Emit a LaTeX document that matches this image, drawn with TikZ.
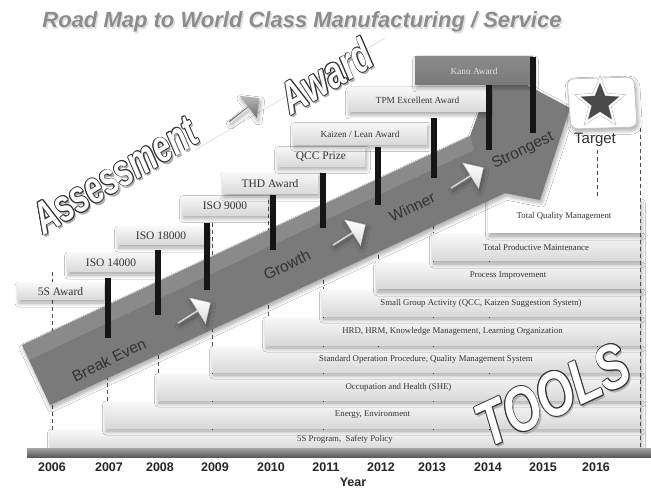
\documentclass[tikz,border=0pt]{standalone}
\usepackage{fontspec}
\setmainfont{Liberation Serif}
\newfontfamily\arialfont{Liberation Sans}
\usetikzlibrary{shapes.geometric,shapes.arrows,shadows.blur}

\definecolor{ink}{HTML}{333333}
\definecolor{bandgray}{HTML}{7A7A7A}
\definecolor{titlegray}{HTML}{8C8C8C}
\definecolor{kanogray}{HTML}{8A8A8A}
\definecolor{barblack}{HTML}{151515}
\definecolor{axisgray}{HTML}{5A5A5A}

\tikzset{
  softshadow/.style={blur shadow={shadow xshift=1.5pt, shadow yshift=-3pt,
      shadow blur steps=8, shadow blur radius=4pt, shadow opacity=35}},
  awardbox/.style={rectangle, inner sep=0pt, top color=gray!6, bottom color=gray!30,
      text=ink, font=\fontsize{11.5}{12}\selectfont, softshadow},
  smallaward/.style={awardbox, font=\fontsize{9.3}{10}\selectfont},
  toolbar/.style={rectangle, inner sep=0pt, top color=gray!6, bottom color=gray!30,
      text=ink, font=\fontsize{8.8}{9}\selectfont, softshadow},
  yeargrid/.style={draw=gray!60!black, line width=1pt, dash pattern=on 4pt off 3pt},
  milestone/.style={draw=barblack, line width=6pt},
  phase/.style={font=\arialfont\fontsize{15.5}{16}\selectfont, text=ink, rotate=26},
  whitearrow/.style={single arrow, inner sep=0pt, minimum height=38pt, minimum width=30pt,
      single arrow head extend=5pt, single arrow head indent=0pt, top color=white,
      bottom color=gray!28, draw=gray!40, softshadow},
  yearlabel/.style={font=\arialfont\bfseries\fontsize{12.5}{13}\selectfont, text=black!85},
  bigword/.style={font=\arialfont\bfseries\itshape\fontsize{#1}{#1}\selectfont},
}

% 3D lettering: grey extrusion, dark rim, white face
\newcommand\hollowword[6]{%
  \foreach \sk in {4,3,2,1}
    \node[bigword=#4, text=gray!62, rotate=#3] at ([shift={({0.5*\sk},{0.65*\sk})}]#2) {\scalebox{#5}[1.45]{#6}};
  \foreach \ang in {0,45,...,315}
    \node[bigword=#4, text=gray!40!black, rotate=#3] at ([shift={({0.85*cos(\ang)},{0.85*sin(\ang)})}]#2) {\scalebox{#5}[1.45]{#6}};
  \node[bigword=#4, text=white, rotate=#3] (#1) at (#2) {\scalebox{#5}[1.45]{#6}};
}

\begin{document}
\begin{tikzpicture}[x=1pt,y=-1pt]
\useasboundingbox (0,0) rectangle (651,489);
\fill[white] (0,0) rectangle (651,489);

% dashed year guides
\foreach \gx/\gy in {52/272,107/278,158/250,212/223,268/200,323/175,378/150,433/120,489/90,597/150,640/128}
  \draw[yeargrid] (\gx,\gy) -- (\gx,449);

% tool layers, bottom to top
\node[toolbar, minimum width=590pt, minimum height=19pt] (t1) at (345,439.5) {5S Program, \ Safety Policy};
\node[toolbar, minimum width=535pt, minimum height=26pt] (t2) at (372.5,415) {Energy, Environment};
\node[toolbar, minimum width=483pt, minimum height=26pt] (t3) at (398.5,387) {Occupation and Health (SHE)};
\node[toolbar, minimum width=428pt, minimum height=25pt] (t4) at (426,359.5) {Standard Operation Procedure, Quality Management System};
\node[toolbar, minimum width=375pt, minimum height=27pt] (t5) at (452.5,331.5) {HRD, HRM, Knowledge Management, Learning Organization};
\node[toolbar, minimum width=318pt, minimum height=26pt] (t6) at (481,303) {Small Group Activity (QCC, Kaizen Suggestion System)};
\node[toolbar, minimum width=264pt, minimum height=26pt] (t7) at (508,276) {Process Improvement};
\node[toolbar, minimum width=208pt, minimum height=27pt] (t8) at (536,247.5) {Total Productive Maintenance};
\node[toolbar, top color=white, bottom color=white, minimum width=152pt, minimum height=33pt] (t9) at (564,216.5) {Total Quality Management};

% growth arrow
\path[fill=bandgray, softshadow] (22,345) -- (470,136) -- (495,68) -- (570,108) -- (540,200)
  -- (505,193) -- (50,405) -- cycle;
\fill[white, opacity=0.12] (22,345) -- (470,136) -- (474,150) -- (29,360) -- cycle;

% award steps
\node[awardbox, minimum width=86pt, minimum height=17pt] (a1) at (60.5,291.5) {5S Award};
\node[awardbox, minimum width=88pt, minimum height=19pt] (a2) at (111,262.5) {ISO 14000};
\node[awardbox, minimum width=88pt, minimum height=18pt] (a3) at (161,236) {ISO 18000};
\node[awardbox, minimum width=86pt, minimum height=19pt] (a4) at (225,206) {ISO 9000};
\node[awardbox, minimum width=95pt, minimum height=21pt] (a5) at (270,183.5) {THD Award};
\node[awardbox, minimum width=88pt, minimum height=19pt] (a6) at (321,157) {QCC Prize};
\node[smallaward, minimum width=134pt, minimum height=21pt] (a7) at (360,134) {Kaizen / Lean Award};
\node[smallaward, minimum width=139pt, minimum height=24pt] (a8) at (417.5,100) {TPM Excellent Award};
\node[smallaward, top color=kanogray, bottom color=kanogray!88!black, text=white!90!black,
      minimum width=118pt, minimum height=28pt] (a9) at (474,71) {Kano Award};

% milestone bars
\foreach \bx/\ba/\bb in {108/278/338,158/250/315,207/223/290,273/195/250,323/173/228,378/147/205,434/118/178,489/85/150,533/57/133}
  \draw[milestone] (\bx,\ba) -- (\bx,\bb);

% step arrows on the band
\node[whitearrow, rotate=32] (w1) at (194,313) {};
\node[whitearrow, rotate=32] (w2) at (349,235) {};
\node[whitearrow, rotate=32] (w3) at (467,178) {};

\node[phase] (p1) at (109,360) {Break Even};
\node[phase] (p2) at (287,265) {Growth};
\node[phase] (p3) at (412,207) {Winner};
\node[phase] (p4) at (523,151) {Strongest};

% assessment -> award
\draw[gray!30, line width=0.6pt] (195,150) -- (385,38);
\hollowword{assess}{115,175}{31}{31}{1.0}{Assessment}
\hollowword{award}{326,76}{31}{31}{1.05}{Award}
\node[single arrow, inner sep=0pt, minimum height=38pt, minimum width=28pt,
      single arrow head extend=5pt, single arrow head indent=0pt, top color=gray!55,
      bottom color=gray!75!black, softshadow, rotate=38] (darr) at (244,110) {};

% target
\path[draw=gray!45, line width=0.8pt, fill=white, rounded corners=7pt, softshadow]
  (567,79) -- (634,77) -- (637,127) -- (571,129) -- cycle;
\node[star, star points=5, star point ratio=2.3, minimum size=48pt, inner sep=0pt,
      fill=gray!58!black, draw=gray!70, double=white, double distance=2pt] (star) at (600,103) {};
\node[font=\arialfont\fontsize{15}{16}\selectfont, text=ink] (target) at (595,140) {Target};

% tools lettering
\hollowword{tools}{553,395}{25}{43}{1.1}{TOOLS}

% time axis
\node[rectangle, inner sep=0pt, minimum width=624pt, minimum height=9pt,
      top color=gray!70, bottom color=axisgray] (axis) at (339,452.5) {};
\foreach \yx/\yr in {52/2006,109/2007,160/2008,215/2009,271/2010,326/2011,381/2012,432/2013,488/2014,543/2015,596/2016}
  \node[yearlabel] (y\yr) at (\yx,467) {\yr};
\node[yearlabel] (ylab) at (353,482) {Year};

% title
\node[font=\arialfont\bfseries\itshape\fontsize{22}{24}\selectfont, text=gray!25] at (303.5,23.5)
  {Road Map to World Class Manufacturing / Service};
\node[font=\arialfont\bfseries\itshape\fontsize{22}{24}\selectfont, text=titlegray] (title) at (302,22)
  {Road Map to World Class Manufacturing / Service};
\end{tikzpicture}
\end{document}
